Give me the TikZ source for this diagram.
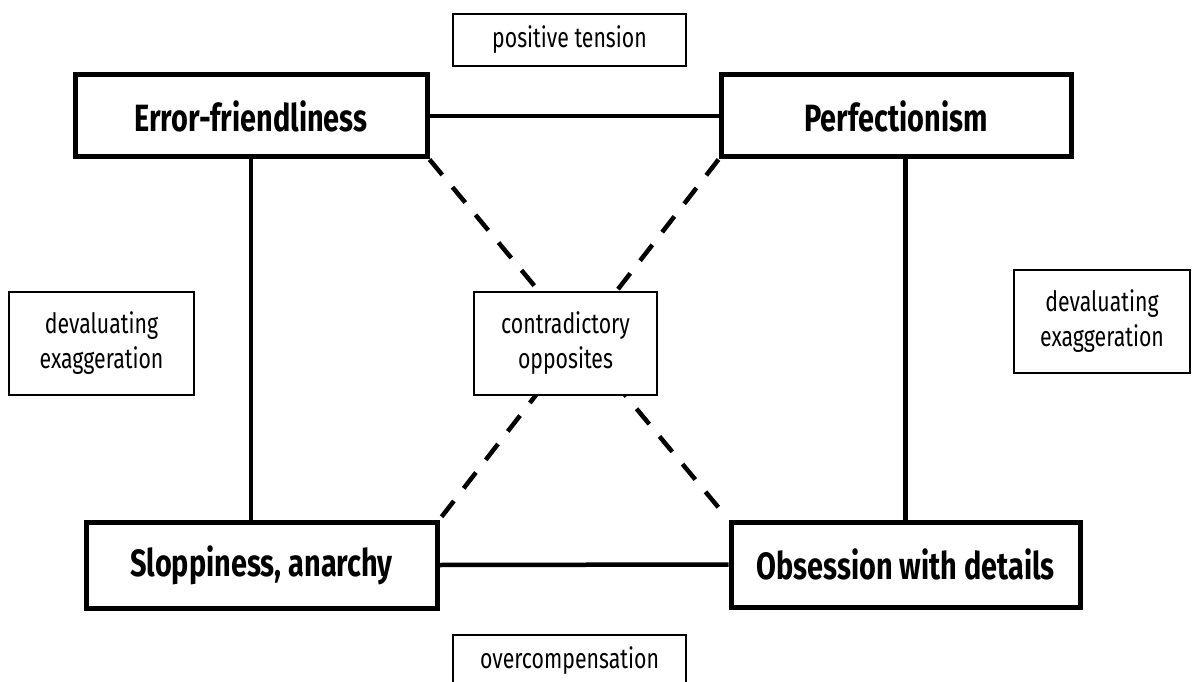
\documentclass[tikz,border=0pt]{standalone}
\usepackage{fontspec}
\setmainfont{Fira Sans}[FakeStretch=0.76]
\begin{document}
\begin{tikzpicture}[x=1pt,y=-1pt,
  mainbox/.style={draw,line width=5pt,minimum width=#1,inner sep=0pt,font=\fontsize{38}{44}\selectfont\bfseries},
  notebox/.style={draw,line width=1.8pt,fill=white,inner sep=0pt,align=center,font=\fontsize{28}{35}\selectfont},
  link/.style={line width=4.5pt},
  dashlink/.style={line width=4.5pt,dash pattern=on 20pt off 16pt}]
\useasboundingbox (0,0) rectangle (1192,682);
\node[mainbox=352pt,minimum height=82pt] (ef) at (251,116) {Error-friendliness};
\node[mainbox=350pt,minimum height=82pt] (pf) at (896,116) {Perfectionism};
\node[mainbox=351pt,minimum height=86pt] (sl) at (261.5,565) {Sloppiness, anarchy};
\node[mainbox=349pt,minimum height=85pt] (ob) at (905.5,564.5) {Obsession with details};
\draw[link] (ef.east) -- (pf.west);
\draw[link] (sl.east) -- (ob.west);
\draw[link] (ef.south) -- (ef.south |- sl.north);
\draw[link] (ob.north |- pf.south) -- (ob.north);
\draw[dashlink] (ef.south east) -- (ob.north west);
\draw[dashlink] (pf.south west) -- (sl.north east);
\node[notebox,minimum width=183pt,minimum height=103pt] (co) at (565.5,343.5) {contradictory\\opposites};
\node[notebox,minimum width=233pt,minimum height=52pt] (pt) at (569.5,40) {positive tension};
\node[notebox,minimum width=233pt,minimum height=52pt] (oc) at (569.5,661) {overcompensation};
\node[notebox,minimum width=185pt,minimum height=103pt] (dl) at (101.5,343.5) {devaluating\\exaggeration};
\node[notebox,minimum width=176pt,minimum height=103pt] (dr) at (1102,321.5) {devaluating\\exaggeration};
\end{tikzpicture}
\end{document}
